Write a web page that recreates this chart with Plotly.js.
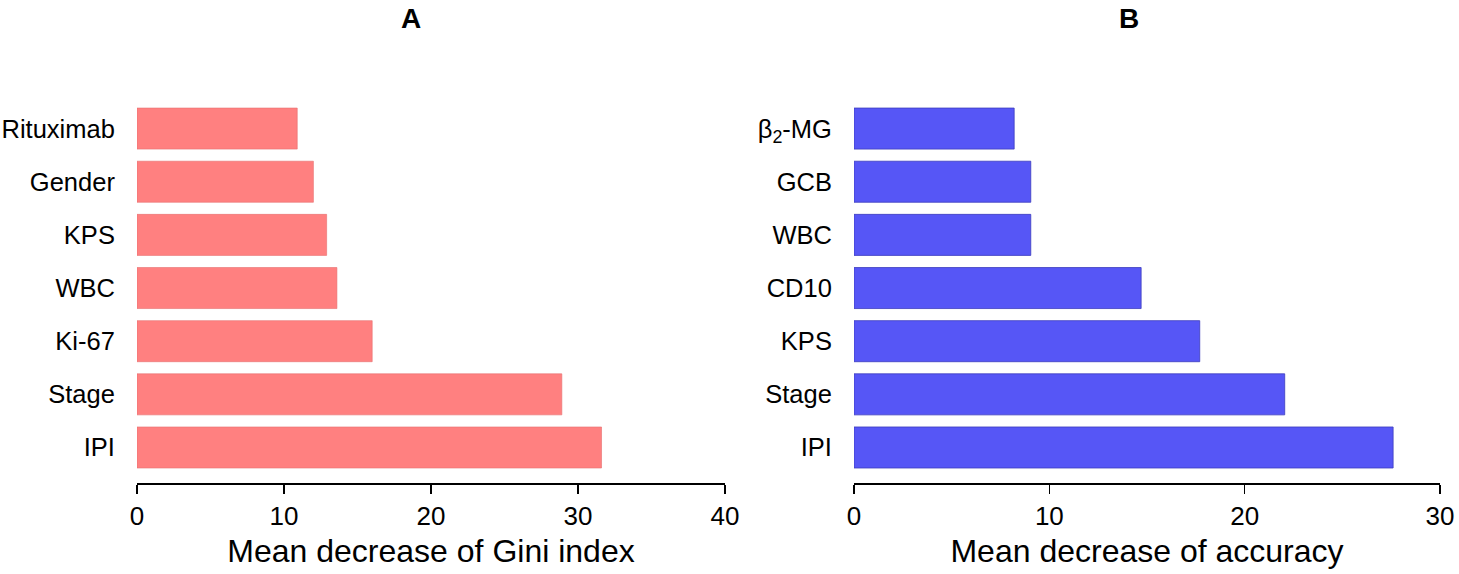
<!DOCTYPE html>
<html>
<head>
<meta charset="utf-8">
<script src="https://cdn.plot.ly/plotly-3.0.1.min.js"></script>
<style>html,body{margin:0;padding:0;background:#fff;}#chart{width:1459px;height:574px;}</style>
</head>
<body>
<div id="chart"></div>
<script>
// Panel A: Mean decrease of Gini index (top to bottom)
const giniCategories = ["Rituximab", "Gender", "KPS", "WBC", "Ki-67", "Stage", "IPI"];
const giniValues = [10.9, 12.0, 12.9, 13.6, 16.0, 28.9, 31.6];

// Panel B: Mean decrease of accuracy (top to bottom)
const accCategories = ["β<sub>2</sub>-MG", "GCB", "WBC", "CD10", "KPS", "Stage", "IPI"];
const accValues = [8.2, 9.05, 9.05, 14.7, 17.7, 22.05, 27.6];

const giniTicks = [0, 10, 20, 30, 40];
const accTicks = [0, 10, 20, 30];

const panelTitles = ["A", "B"];
const xTitles = ["Mean decrease of Gini index", "Mean decrease of accuracy"];

const FONT = "Liberation Sans, Arial, Helvetica, sans-serif";
const W = 1459;

const traces = [
  {
    type: "bar", orientation: "h",
    x: giniValues, y: giniCategories,
    xaxis: "x", yaxis: "y",
    marker: {color: "#FF8080", line: {color: "rgba(230,110,110,0.6)", width: 1}},
    hoverinfo: "x+y"
  },
  {
    type: "bar", orientation: "h",
    x: accValues, y: accCategories,
    xaxis: "x2", yaxis: "y2",
    marker: {color: "#5656F6", line: {color: "rgba(60,60,190,0.8)", width: 1}},
    hoverinfo: "x+y"
  }
];

function xAxis(domain, range, ticks, title, anchor) {
  return {
    domain: domain, range: range, anchor: anchor,
    tickmode: "array", tickvals: ticks, ticktext: ticks.map(String),
    showgrid: false, zeroline: false,
    showline: true, linecolor: "#000", linewidth: 1.6,
    ticks: "outside", ticklen: 9, tickwidth: 1.6, tickcolor: "#000",
    tickfont: {family: FONT, size: 26, color: "#000"},
    title: {text: title, font: {family: FONT, size: 32, color: "#000"}, standoff: 10},
    fixedrange: true
  };
}
function yAxis(anchor) {
  return {
    domain: [0, 1], anchor: anchor,
    type: "category",
    range: [6.668, -0.5],
    showgrid: false, zeroline: false, showline: false,
    ticks: "outside", ticklen: 16, tickcolor: "rgba(0,0,0,0)",
    tickfont: {family: FONT, size: 25.5, color: "#000"},
    fixedrange: true
  };
}

const layout = {
  width: W, height: 574,
  margin: {l: 0, r: 0, t: 102, b: 91},
  paper_bgcolor: "#fff", plot_bgcolor: "#fff",
  showlegend: false,
  bargap: 0.228,
  font: {family: FONT, color: "#000"},
  xaxis: xAxis([137 / W, 725 / W], [0, 40], giniTicks, xTitles[0], "y"),
  yaxis: yAxis("x"),
  xaxis2: xAxis([854 / W, 1440 / W], [0, 30], accTicks, xTitles[1], "y2"),
  yaxis2: yAxis("x2"),
  annotations: [
    {text: "<b>" + panelTitles[0] + "</b>", xref: "paper", yref: "paper",
     x: 411 / W, y: (482.7 - 18) / 381.3, xanchor: "center", yanchor: "middle",
     showarrow: false, font: {family: FONT, size: 28, color: "#000"}},
    {text: "<b>" + panelTitles[1] + "</b>", xref: "paper", yref: "paper",
     x: 1129 / W, y: (482.7 - 18) / 381.3, xanchor: "center", yanchor: "middle",
     showarrow: false, font: {family: FONT, size: 28, color: "#000"}}
  ]
};

Plotly.newPlot("chart", traces, layout, {displayModeBar: false, staticPlot: true});
</script>
</body>
</html>
